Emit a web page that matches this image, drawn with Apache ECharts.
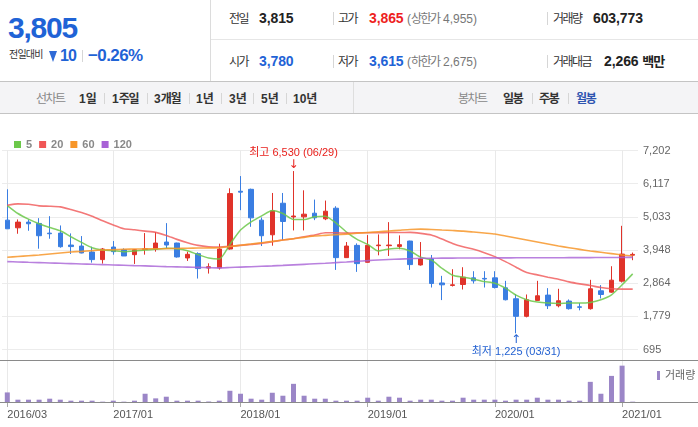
<!DOCTYPE html>
<html><head><meta charset="utf-8">
<script src="https://cdn.jsdelivr.net/npm/echarts@6/dist/echarts.min.js"></script>
<style>
html,body{margin:0;padding:0;background:#fff;}
body{width:698px;height:427px;position:relative;overflow:hidden;font-family:"Liberation Sans","Noto Sans CJK KR",sans-serif;}
#chart{position:absolute;left:0;top:0;width:698px;height:427px;}
#hdr{position:absolute;left:0;top:0;width:698px;height:114px;z-index:2;background:#fff;}
.t{position:absolute;white-space:nowrap;height:20px;line-height:20px;}
.k{font-family:"Noto Sans CJK KR",sans-serif;}
.ln{position:absolute;}
.num{font-weight:bold;font-size:14px;letter-spacing:-0.1px;}
.lab{font-size:12px;color:#333;letter-spacing:-1.5px;font-family:"Noto Sans CJK KR",sans-serif;}
.lim{font-size:12px;color:#777;}
.lim .k{letter-spacing:-1.5px;}
.sep{position:absolute;width:1px;background:#d6d6d6;}
.m{font-size:12px;font-weight:bold;color:#333;}
.m .k{letter-spacing:-1.2px;}
.mg{font-size:12px;color:#888;letter-spacing:-1.5px;font-family:"Noto Sans CJK KR",sans-serif;}
.blue{color:#1f63d6;}
.red{color:#ee1f1f;}
</style></head>
<body>
<div id="chart"></div>
<div id="hdr">
  <div class="ln" style="left:0;top:81px;width:698px;height:1px;background:#c4c4c4"></div>
  <div class="ln" style="left:210px;top:0;width:1px;height:81px;background:#dcdcdc"></div>
  <div class="ln" style="left:211px;top:39px;width:487px;height:1px;background:#e6e6e6"></div>
  <div class="ln" style="left:0;top:82px;width:698px;height:31px;background:#f4f4f6"></div>
  <div class="ln" style="left:0;top:113px;width:698px;height:1px;background:#c4c4c4"></div>

  <div class="t blue" style="left:8px;top:13px;height:30px;line-height:30px;font-size:30px;font-weight:bold;letter-spacing:-1.2px">3,805</div>
  <div class="t k" style="left:9px;top:44px;font-size:10px;color:#333;letter-spacing:-0.8px">전일대비</div>
  <div class="ln" style="left:49px;top:51px;width:0;height:0;border-left:4.5px solid transparent;border-right:4.5px solid transparent;border-top:11px solid #2f6ad6"></div>
  <div class="t blue" style="left:60px;top:46px;font-size:16px;font-weight:bold;letter-spacing:-1px">10</div>
  <div class="sep" style="left:82px;top:50px;height:12px"></div>
  <div class="t blue" style="left:88px;top:46px;font-size:17px;font-weight:bold;letter-spacing:-0.6px">&minus;0.26%</div>

  <div class="t lab" style="left:229px;top:8px">전일</div>
  <div class="t num" style="left:259px;top:8px;color:#222">3,815</div>
  <div class="sep" style="left:333px;top:12px;height:13px"></div>
  <div class="t lab" style="left:338px;top:8px">고가</div>
  <div class="t num red" style="left:369px;top:8px">3,865</div>
  <div class="t lim" style="left:407px;top:8px">(<span class="k">상한가</span> 4,955)</div>
  <div class="sep" style="left:547px;top:12px;height:13px"></div>
  <div class="t lab" style="left:553px;top:8px">거래량</div>
  <div class="t num" style="left:593px;top:8px;color:#222">603,773</div>

  <div class="t lab" style="left:229px;top:51px">시가</div>
  <div class="t num blue" style="left:259px;top:51px">3,780</div>
  <div class="sep" style="left:333px;top:55px;height:13px"></div>
  <div class="t lab" style="left:338px;top:51px">저가</div>
  <div class="t num blue" style="left:369px;top:51px">3,615</div>
  <div class="t lim" style="left:407px;top:51px">(<span class="k">하한가</span> 2,675)</div>
  <div class="sep" style="left:547px;top:55px;height:13px"></div>
  <div class="t lab" style="left:553px;top:51px">거래대금</div>
  <div class="t num" style="left:604px;top:51px;color:#222">2,266 <span class="k" style="font-size:13px;letter-spacing:-1px">백만</span></div>

  <div class="t mg" style="left:36px;top:88px">선차트</div>
  <div class="t m" style="left:79px;top:88px">1<span class="k">일</span></div>
  <div class="sep" style="left:104px;top:93px;height:11px"></div>
  <div class="t m" style="left:112px;top:88px">1<span class="k">주일</span></div>
  <div class="sep" style="left:147px;top:93px;height:11px"></div>
  <div class="t m" style="left:154px;top:88px">3<span class="k">개월</span></div>
  <div class="sep" style="left:189px;top:93px;height:11px"></div>
  <div class="t m" style="left:196px;top:88px">1<span class="k">년</span></div>
  <div class="sep" style="left:221px;top:93px;height:11px"></div>
  <div class="t m" style="left:229px;top:88px">3<span class="k">년</span></div>
  <div class="sep" style="left:253px;top:93px;height:11px"></div>
  <div class="t m" style="left:261px;top:88px">5<span class="k">년</span></div>
  <div class="sep" style="left:286px;top:93px;height:11px"></div>
  <div class="t m" style="left:293px;top:88px">10<span class="k">년</span></div>
  <div class="ln" style="left:353px;top:82px;width:1px;height:31px;background:#dedede"></div>
  <div class="t mg" style="left:458px;top:88px">봉차트</div>
  <div class="t m" style="left:503px;top:88px"><span class="k">일봉</span></div>
  <div class="sep" style="left:532px;top:93px;height:11px"></div>
  <div class="t m" style="left:539px;top:88px"><span class="k">주봉</span></div>
  <div class="sep" style="left:568px;top:93px;height:11px"></div>
  <div class="t m" style="left:576px;top:88px;color:#2e55b0"><span class="k">월봉</span></div>
</div>
<script>
const categories = [
 '2016/03','2016/04','2016/05','2016/06','2016/07','2016/08','2016/09','2016/10','2016/11','2016/12',
 '2017/01','2017/02','2017/03','2017/04','2017/05','2017/06','2017/07','2017/08','2017/09','2017/10','2017/11','2017/12',
 '2018/01','2018/02','2018/03','2018/04','2018/05','2018/06','2018/07','2018/08','2018/09','2018/10','2018/11','2018/12',
 '2019/01','2019/02','2019/03','2019/04','2019/05','2019/06','2019/07','2019/08','2019/09','2019/10','2019/11','2019/12',
 '2020/01','2020/02','2020/03','2020/04','2020/05','2020/06','2020/07','2020/08','2020/09','2020/10','2020/11','2020/12',
 '2021/01','2021/02'];
const opens  = [4925,4675,4860,4817,4500,4502,4110,4078,3883,3634,4046,3959,3796,3970,3981,4209,4176,3688,3829,3360,
                3363,3981,5870,5933,4925,4446,5478,5030,5033,5152,4968,5315,3699,4100,3547,4090,4090,4067,4241,3460,
                3656,2870,2790,2820,3038,3020,3038,2711,2354,1780,2300,2474,2126,2278,2090,2029,2615,2571,2930,3780];
const closes = [4642,4860,4806,4415,4480,4056,4060,3851,3634,3981,3894,3753,3959,3985,4176,4111,3721,3807,3341,3400,
                3981,5792,5840,5000,4415,5228,4881,5060,5120,5000,5217,3699,4078,3503,4100,4110,4110,4122,3471,3656,
                2853,2810,2810,3060,2940,3000,2722,2322,1780,2322,2452,2126,2289,2029,2075,2680,2494,2962,3815,3805];
const lows   = [4642,4480,4577,3991,4317,4024,3818,3840,3536,3503,3796,3753,3493,3796,3894,4002,3700,3590,3015,3178,
                3308,3960,5250,4707,4078,4089,4274,4588,4588,4925,4925,3298,3690,3233,3540,3775,3753,3971,3298,3438,
                2722,2311,2755,2657,2853,2722,2690,2300,1225,1746,2290,2019,2073,2000,1975,2000,2364,2550,2886,3615];
const highs  = [5933,4947,4947,4990,5055,4751,4491,4404,4056,4014,4241,4002,3981,4502,4534,4827,4187,3894,3872,3514,
                4154,5966,6366,5955,5012,5813,5813,6530,5900,5597,5565,5380,4209,4165,4436,4458,4859,4426,4252,4209,
                3786,3103,3321,3385,3255,3255,3255,2940,2506,2494,2940,2701,2680,2332,2213,2973,2800,3418,4739,3865];
const ma5   = [5402,5142,4957,4805,4686,4577,4382,4198,4024,3949,3927,3894,3916,3949,3971,4003,3992,3927,3796,3688,
               3656,4133,4599,4870,5066,5239,5142,4946,4946,5033,5055,4838,4534,4296,4133,3916,3981,4003,3916,3710,
               3623,3352,3124,3060,2995,2918,2863,2700,2474,2322,2246,2213,2202,2213,2213,2235,2322,2484,2810,3168];
const ma20  = [5413,5456,5445,5391,5380,5358,5272,5174,5055,4902,4762,4642,4609,4567,4524,4426,4296,4187,4100,4056,
               4046,4068,4100,4133,4165,4220,4274,4317,4382,4436,4512,4512,4501,4512,4512,4512,4520,4520,4524,4491,
               4436,4306,4165,4056,3971,3862,3732,3568,3385,3211,3135,3060,2995,2907,2842,2788,2722,2680,2669,2669];
const ma60  = [3710,3735,3760,3786,3820,3852,3883,3905,3928,3949,3960,3972,3981,3985,3989,3992,4000,4007,4014,4018,
               4024,4062,4103,4144,4188,4231,4274,4318,4361,4404,4426,4448,4469,4494,4520,4545,4570,4595,4620,4631,
               4620,4602,4585,4567,4535,4502,4469,4404,4339,4274,4209,4143,4078,4024,3970,3916,3873,3830,3786,3753];
const ma120 = [3568,3557,3546,3536,3525,3514,3503,3492,3482,3471,3460,3449,3438,3428,3417,3406,3398,3389,3380,3371,
               3363,3376,3389,3402,3415,3428,3445,3463,3480,3497,3514,3536,3558,3580,3601,3623,3637,3651,3664,3678,
               3680,3682,3684,3686,3688,3690,3691,3692,3693,3694,3695,3696,3697,3698,3699,3700,3702,3704,3706,3708];
const volumes = [2900000,700000,700000,700000,1000000,700000,400000,400000,400000,100000,400000,100000,400000,2500000,1100000,1600000,400000,400000,400000,150000,
                 400000,3400000,2500000,1000000,700000,2800000,1900000,5500000,1900000,1000000,1000000,400000,400000,400000,1300000,400000,1600000,1300000,400000,700000,
                 700000,400000,400000,1300000,700000,700000,700000,400000,700000,700000,1300000,700000,700000,400000,400000,6100000,2500000,7900000,11000000,100000];
const yTicks = [695, 1779.5, 2864, 3948.5, 5033, 6117.5, 7202];
const xLabelMonths = ['2016/03','2017/01','2018/01','2019/01','2020/01','2021/01'];
const highNote = '최고 6,530 (06/29)';
const lowNote = '최저 1,225 (03/31)';

const candleData = categories.map((c, i) => [opens[i], closes[i], lows[i], highs[i]]);
const hiIdx = highs.indexOf(Math.max(...highs));
const loIdx = lows.indexOf(Math.min(...lows));
const showMonth = (idx, val) => xLabelMonths.indexOf(val) >= 0;
const FONT = '"Liberation Sans","Noto Sans CJK KR",sans-serif';
const ARROW_FONT = '"DejaVu Sans",sans-serif';

const chart = echarts.init(document.getElementById('chart'), null, {renderer: 'canvas'});
const maColors = ['#6cc84a', '#f05656', '#f7962a', '#a862d6'];
chart.setOption({
  animation: false,
  textStyle: {fontFamily: FONT},
  legend: [{
    data: ['5', '20', '60', '120'], left: 9, top: 134, icon: 'rect', itemWidth: 7, itemHeight: 7, itemGap: 7,
    textStyle: {color: '#888', fontWeight: 'bold', fontSize: 11, fontFamily: FONT}
  }, {
    data: ['거래량'], left: 652, top: 365, icon: 'rect', itemWidth: 3, itemHeight: 9,
    textStyle: {color: '#666', fontSize: 11, fontFamily: FONT}
  }],
  grid: [
    {left: 2, width: 636, top: 150.5, height: 199},
    {left: 2, width: 636, top: 349.5, height: 52.5}
  ],
  xAxis: [{
    type: 'category', data: categories, gridIndex: 0, boundaryGap: true,
    axisLine: {show: false}, axisTick: {show: false, alignWithLabel: true, interval: showMonth}, axisLabel: {show: false},
    splitLine: {show: true, interval: showMonth, alignWithLabel: true, lineStyle: {color: '#e9e9e9', width: 1}}
  }, {
    type: 'category', data: categories, gridIndex: 1, boundaryGap: true,
    axisLine: {show: false},
    axisTick: {show: true, alignWithLabel: true, interval: showMonth, length: 5, lineStyle: {color: '#aaa'}},
    axisLabel: {show: true, interval: showMonth, align: 'left', margin: 7, color: '#555', fontSize: 11, fontFamily: FONT},
    splitLine: {show: true, interval: showMonth, alignWithLabel: true, lineStyle: {color: '#e9e9e9', width: 1}}
  }],
  yAxis: [{
    type: 'value', gridIndex: 0, position: 'right', min: 695, max: 7202, scale: true,
    axisLine: {show: false},
    axisTick: {show: false, customValues: yTicks},
    axisLabel: {customValues: yTicks, margin: 5, color: '#666', fontSize: 11, fontFamily: FONT,
      formatter: v => Math.floor(v).toLocaleString('en-US')},
    splitLine: {show: true, lineStyle: {color: '#ececec', width: 1}}
  }, {
    type: 'value', gridIndex: 1, min: 0, max: 15890000, show: false, splitLine: {show: false}
  }],
  series: [{
    name: '거래량', type: 'bar', xAxisIndex: 1, yAxisIndex: 1, data: volumes, barWidth: 5,
    itemStyle: {color: '#9b86c7'}
  }, {
    name: 'price', type: 'candlestick', xAxisIndex: 0, yAxisIndex: 0, data: candleData, barWidth: 5,
    itemStyle: {color: '#e0332a', color0: '#3a7ee2', borderColor: '#e0332a', borderColor0: '#3a7ee2', borderWidth: 1},
    markPoint: {
      symbol: 'circle', symbolSize: 0, animation: false,
      label: {show: true, fontSize: 11, lineHeight: 12, fontFamily: FONT},
      data: [
        {coord: [hiIdx, highs[hiIdx]], label: {formatter: '{t|' + highNote + '}\n{a|↓}', position: 'top', distance: 1, color: '#e8201c',
          rich: {t: {fontSize: 11, lineHeight: 13, fontFamily: FONT}, a: {fontSize: 12, lineHeight: 11, fontFamily: ARROW_FONT}}}},
        {coord: [loIdx, lows[loIdx]], label: {formatter: '{a|↑}\n{t|' + lowNote + '}', position: 'bottom', distance: 1, color: '#2462d2',
          rich: {t: {fontSize: 11, lineHeight: 13, fontFamily: FONT}, a: {fontSize: 12, lineHeight: 11, fontFamily: ARROW_FONT}}}}
      ]
    }
  },
  {name: '5', type: 'line', data: ma5, showSymbol: false, smooth: 0.2, color: maColors[0], lineStyle: {width: 1.5, opacity: 0.85}, z: 3},
  {name: '20', type: 'line', data: ma20, showSymbol: false, smooth: 0.2, color: maColors[1], lineStyle: {width: 1.6, opacity: 0.8}, z: 3},
  {name: '60', type: 'line', data: ma60, showSymbol: false, smooth: 0.2, color: maColors[2], lineStyle: {width: 1.6, opacity: 0.85}, z: 3},
  {name: '120', type: 'line', data: ma120, showSymbol: false, smooth: 0.2, color: maColors[3], lineStyle: {width: 1.6, opacity: 0.8}, z: 3}
  ],
  graphic: [
    {type: 'line', shape: {x1: 0, y1: 360.5, x2: 698, y2: 360.5}, style: {stroke: '#8a8a8a', lineWidth: 1}, z: 10},
    {type: 'line', shape: {x1: 0, y1: 402.5, x2: 698, y2: 402.5}, style: {stroke: '#8a8a8a', lineWidth: 1}, z: 10}
  ]
});
</script>
</body></html>
